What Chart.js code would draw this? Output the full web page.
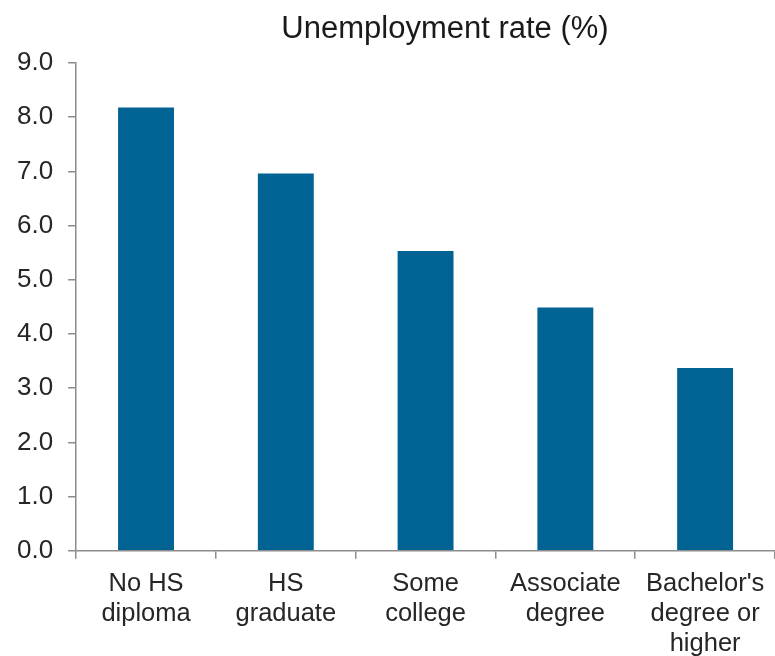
<!DOCTYPE html>
<html>
<head>
<meta charset="utf-8">
<script src="https://cdn.jsdelivr.net/npm/chart.js@4/dist/chart.umd.min.js"></script>
<style>
  html, body { margin: 0; padding: 0; background: #fff; }
  #wrap { width: 775px; height: 656px; }
</style>
</head>
<body>
<div id="wrap"><canvas id="myChart" width="775" height="656"></canvas></div>
<script>
var categories = [['No HS', 'diploma'], ['HS', 'graduate'], ['Some', 'college'], ['Associate', 'degree'], ["Bachelor's", 'degree or', 'higher']];
var rates = [8.18, 6.96, 5.53, 4.49, 3.37];
var titleText = 'Unemployment rate (%)';

// title drawn centred over the plot like in the original
var titlePlugin = {
    id: 'topTitle',
    afterDraw: function (chart) {
        var c = chart.ctx;
        c.save();
        c.font = '31px "Liberation Sans", Arial, sans-serif';
        c.fillStyle = '#1a1a1a';
        c.textAlign = 'center';
        c.textBaseline = 'middle';
        c.fillText(titleText, 445, 29);
        c.restore();
    }
};

Chart.defaults.font.family = '"Liberation Sans", Arial, sans-serif';
Chart.defaults.color = '#262626';

const ctx = document.getElementById('myChart');
const myChart = new Chart(ctx, {
    type: 'bar',
    data: {
        labels: categories,
        datasets: [{
            label: titleText,
            data: rates,
            backgroundColor: '#006394',
            borderWidth: 0,
            categoryPercentage: 1.0,
            barPercentage: 0.4
        }]
    },
    options: {
        responsive: false,
        animation: false,
        layout: { padding: { top: 63, right: 0, left: 2, bottom: -13 } },
        plugins: {
            legend: { display: false },
            tooltip: { enabled: false }
        },
        scales: {
            x: {
                offset: true,
                grid: {
                    offset: true,
                    drawOnChartArea: false,
                    drawTicks: true,
                    tickLength: 8,
                    color: '#8c8c8c',
                    lineWidth: 1.5
                },
                border: { color: '#8c8c8c', width: 1.5 },
                ticks: {
                    maxRotation: 0,
                    autoSkip: false,
                    padding: 10,
                    font: { size: 25.5, lineHeight: 1.18 },
                    color: '#262626'
                }
            },
            y: {
                min: 0,
                max: 9,
                grid: {
                    drawOnChartArea: false,
                    drawTicks: true,
                    tickLength: 8,
                    color: '#8c8c8c',
                    lineWidth: 1.5
                },
                border: { color: '#8c8c8c', width: 1.5 },
                ticks: {
                    stepSize: 1,
                    padding: 15,
                    font: { size: 26 },
                    color: '#262626',
                    callback: function (v) { return v.toFixed(1); }
                }
            }
        }
    },
    plugins: [titlePlugin]
});
</script>
</body>
</html>
